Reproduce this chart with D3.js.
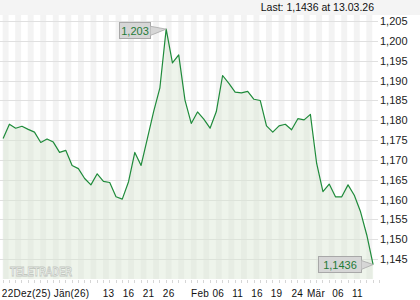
<!DOCTYPE html>
<html lang="de">
  <head>
    <meta charset="UTF-8" />
    <title>EUR/USD – TeleTrader</title>
    <script src="https://d3js.org/d3.v7.min.js"></script>
    <style>
      body {
        margin: 0;
        padding: 0;
        background: #fff;
        font-family: "Liberation Sans", Arial, sans-serif;
      }
      svg {
        display: block;
      }
    </style>
  </head>
  <body>
    <svg width="420" height="300"></svg>
    <script>
      // daily closes, 22.12.25 – 13.03.26 (one value per trading day)
      const values = [
        1.1754, 1.179, 1.178, 1.1785, 1.1777, 1.177, 1.1744, 1.1753, 1.1745, 1.1719,
        1.1724, 1.1686, 1.1678, 1.1653, 1.1637, 1.1665, 1.1646, 1.1643, 1.1607, 1.1601,
        1.1645, 1.1719, 1.1686, 1.1754, 1.1822, 1.1882, 1.203, 1.1945, 1.1965, 1.1851,
        1.1792, 1.1821, 1.1803, 1.178, 1.1822, 1.1913, 1.1893, 1.1871, 1.1869, 1.1873,
        1.1853, 1.185, 1.1786, 1.177, 1.1786, 1.179, 1.1776, 1.1804, 1.1801, 1.1815,
        1.1691, 1.162, 1.1639, 1.1607, 1.1607, 1.1637, 1.1611, 1.1569, 1.151, 1.1436,
      ];

      // x-axis labels and where they sit (in trading-day units)
      const tickLabels = [
        "22Dez(25)", "Jän(26)", "13", "16", "21", "26", "Feb", "06",
        "11", "16", "19", "24", "Mär", "06", "11",
      ];
      const tickPos = [3.7, 10.9, 16.8, 20.0, 23.2, 26.4, 31.4, 34.3, 37.4, 40.5, 43.6, 46.9, 49.9, 53.4, 56.5];

      const yTicks = [1.145, 1.15, 1.155, 1.16, 1.165, 1.17, 1.175, 1.18, 1.185, 1.19, 1.195, 1.2, 1.205];

      const maxLabel = "1,203";
      const lastLabel = "1,1436";
      const headline = "Last: 1,1436 at 13.03.26";

      const plotTop = 15,
        plotBottom = 279,
        plotLeft = 0,
        plotRight = 376;

      const svg = d3.select("svg");
      const fmt = (v) => d3.format(".3f")(v).replace(".", ",");

      const x = d3.scaleLinear().domain([0, values.length - 1]).range([3.13, 373.1]);
      const y = d3.scaleLinear().domain([1.145, 1.205]).range([259, 21.2]);
      const step = x(1) - x(0);

      // top strip
      svg.append("rect").attr("x", 0).attr("y", 0).attr("width", 420).attr("height", plotTop).attr("fill", "#f4f4f4");

      // vertical day stripes
      svg
        .append("g")
        .selectAll("rect")
        .data(d3.range(0, values.length, 2))
        .join("rect")
        .attr("x", (i) => x(i) - 0.45)
        .attr("y", plotTop)
        .attr("width", step - 0.4)
        .attr("height", plotBottom - plotTop)
        .attr("fill", "#f3f3f3");

      // horizontal grid
      svg
        .append("g")
        .selectAll("line")
        .data(yTicks)
        .join("line")
        .attr("x1", plotLeft)
        .attr("x2", plotRight + 2)
        .attr("y1", (d) => Math.round(y(d)) + 0.5)
        .attr("y2", (d) => Math.round(y(d)) + 0.5)
        .attr("stroke", "#e0e0e0")
        .attr("stroke-width", 1);

      // area + line
      const area = d3
        .area()
        .x((d, i) => x(i))
        .y0(plotBottom)
        .y1((d) => y(d));
      svg.append("path").datum(values).attr("d", area).attr("fill", "#d9e6d2").attr("fill-opacity", 0.45);

      const line = d3
        .line()
        .x((d, i) => x(i))
        .y((d) => y(d));
      svg
        .append("path")
        .datum(values)
        .attr("d", line)
        .attr("fill", "none")
        .attr("stroke", "#1f8b3b")
        .attr("stroke-width", 1.2)
        .attr("stroke-linejoin", "round");

      // watermark
      svg
        .append("text")
        .attr("x", 10)
        .attr("y", 276)
        .attr("font-size", 13)
        .attr("font-weight", "bold")
        .attr("textLength", 62)
        .attr("lengthAdjust", "spacingAndGlyphs")
        .attr("fill", "#fff")
        .attr("stroke", "#c2c7c0")
        .attr("stroke-width", 0.9)
        .text("TELETRADER");

      // bottom ticks
      svg
        .append("g")
        .selectAll("line")
        .data(d3.range(0, values.length + 1))
        .join("line")
        .attr("x1", (i) => Math.round(x(i) - 0.45) + 0.5)
        .attr("x2", (i) => Math.round(x(i) - 0.45) + 0.5)
        .attr("y1", plotBottom + 1)
        .attr("y2", plotBottom + 4)
        .attr("stroke", "#d6d6d6");

      // x labels
      svg
        .append("g")
        .selectAll("text")
        .data(tickLabels)
        .join("text")
        .attr("x", (d, i) => x(tickPos[i]))
        .attr("y", 297)
        .attr("text-anchor", "middle")
        .attr("font-size", 10)
        .attr("letter-spacing", 0.25)
        .attr("fill", "#111")
        .text((d) => d);

      // y labels
      svg
        .append("g")
        .selectAll("text")
        .data(yTicks)
        .join("text")
        .attr("x", 380)
        .attr("y", (d) => y(d) + 4)
        .attr("font-size", 11)
        .attr("fill", "#222")
        .text((d) => fmt(d));

      // headline
      svg
        .append("text")
        .attr("x", 374)
        .attr("y", 11)
        .attr("text-anchor", "end")
        .attr("font-size", 10.5)
        .attr("fill", "#111")
        .text(headline);

      // callouts
      function callout(idx, label, bx, by, bw, bh) {
        const px = x(idx),
          py = y(values[idx]);
        const g = svg.append("g");
        g.append("path")
          .attr("d", `M${bx + bw - 1},${by + 4} L${px},${py} L${bx + bw - 1},${by + bh - 2} Z`)
          .attr("fill", "#d6d6d6")
          .attr("stroke", "#a8a8a8")
          .attr("stroke-width", 0.8);
        g.append("rect")
          .attr("x", bx + 0.5)
          .attr("y", by + 0.5)
          .attr("width", bw)
          .attr("height", bh)
          .attr("fill", "#d6d6d6")
          .attr("stroke", "#a8a8a8");
        g.append("rect")
          .attr("x", bx + bw - 1)
          .attr("y", by + 4.5)
          .attr("width", 1.5)
          .attr("height", bh - 7)
          .attr("fill", "#d6d6d6");
        g.append("text")
          .attr("x", bx + bw / 2 + 0.5)
          .attr("y", by + bh / 2 + 4.5)
          .attr("text-anchor", "middle")
          .attr("font-size", 11)
          .attr("fill", "#1f7a36")
          .text(label);
      }
      const maxIdx = d3.maxIndex(values);
      callout(maxIdx, maxLabel, 119, 22, 31, 16);
      callout(values.length - 1, lastLabel, 318, 256, 43, 16);
    </script>
  </body>
</html>
